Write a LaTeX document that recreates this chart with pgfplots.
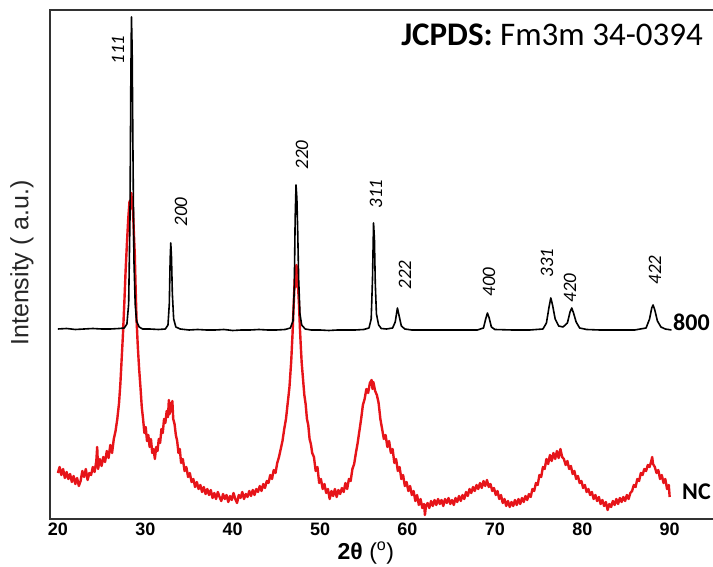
\documentclass[border=0pt]{standalone}
\usepackage{fontspec}
\setmainfont{Liberation Sans}
\newfontfamily\calib{Carlito}
\usepackage{pgfplots}
\pgfplotsset{compat=1.18}
\definecolor{xrdred}{RGB}{230,20,25}
\definecolor{axgray}{RGB}{50,50,50}

\begin{document}
\begin{tikzpicture}
\begin{axis}[
  name=ax,
  scale only axis,
  width=672.1pt, height=509pt,
  xmin=19.1, xmax=96, ymin=0, ymax=509,
  axis line style={line width=1.5pt, axgray},
  xtick={20,30,...,90}, ytick=\empty,
  major tick length=0pt,
  /pgf/number format/assume math mode=true,
  xticklabel style={font=\fontsize{18}{18}\selectfont\bfseries, text=black},
  xlabel={\textbf{2θ} (\textsuperscript{o})},
  ylabel={Intensity ( a.u.)},
  xlabel style={at={(axis description cs:0.470,-0.067)}, anchor=center, font=\fontsize{23}{23}\selectfont, text=black},
  ylabel style={at={(axis description cs:-0.0417,0.503)}, anchor=center, font=\fontsize{25}{25}\selectfont, text=black!85},
]
\coordinate (bl) at (rel axis cs:0,0);
\coordinate (tl) at (rel axis cs:0,1);

% NC sample (red)
\addplot[xrdred, line width=2.4pt, line join=round] coordinates {
(20.0,46)(20.2,52)(20.4,44)(20.6,50)(20.8,41)(21.0,47)(21.2,40)(21.4,45)(21.6,37)(21.8,43)
(22.0,35)(22.2,41)(22.4,33)(22.6,38)(22.8,48)(23.0,42)(23.2,50)(23.4,39)(23.6,46)(23.8,44)
(24.0,52)(24.2,47)(24.4,58)(24.5,72)(24.6,50)(24.8,60)(25.0,53)(25.2,62)(25.4,57)(25.6,68)
(25.8,61)(26.0,74)(26.2,66)(26.4,80)(26.6,88)(26.8,100)(27.0,116)(27.15,135)(27.3,160)(27.45,185)
(27.6,215)(27.75,248)(27.9,275)(28.05,300)(28.2,318)(28.3,310)(28.4,326)(28.5,316)(28.6,308)(28.7,285)
(28.8,265)(28.9,230)(29.0,200)(29.15,172)(29.3,150)(29.45,132)(29.6,112)(29.75,100)(29.9,86)(30.05,92)
(30.2,78)(30.35,84)(30.5,72)(30.65,80)(30.8,66)(30.95,70)(31.1,60)(31.25,72)(31.4,68)(31.55,80)
(31.7,76)(31.85,90)(32.0,86)(32.15,100)(32.3,96)(32.45,108)(32.6,102)(32.7,119)(32.8,105)(32.9,116)
(33.0,108)(33.1,118)(33.2,100)(33.35,95)(33.5,84)(33.65,78)(33.8,66)(33.95,70)(34.1,56)(34.3,60)
(34.5,48)(34.7,52)(34.9,42)(35.1,46)(35.3,37)(35.5,40)(35.7,32)(35.9,37)(36.1,30)(36.3,34)
(36.5,27)(36.7,32)(36.9,25)(37.1,30)(37.3,24)(37.5,29)(37.7,21)(37.9,26)(38.1,20)(38.3,27)
(38.5,22)(38.7,18)(38.9,25)(39.1,20)(39.3,24)(39.5,17)(39.7,23)(39.9,19)(40.1,26)(40.3,20)
(40.5,16)(40.7,24)(40.9,21)(41.1,27)(41.3,20)(41.5,25)(41.7,22)(41.9,28)(42.1,23)(42.3,29)
(42.5,24)(42.7,30)(42.9,27)(43.1,33)(43.3,28)(43.5,35)(43.7,31)(43.9,38)(44.1,36)(44.3,44)
(44.5,40)(44.7,49)(44.9,46)(45.1,56)(45.3,62)(45.5,70)(45.7,78)(45.9,90)(46.1,100)(46.3,116)
(46.5,132)(46.7,158)(46.85,185)(47.0,218)(47.1,240)(47.2,232)(47.3,254)(47.4,244)(47.5,230)(47.6,212)
(47.7,190)(47.8,172)(47.9,156)(48.05,140)(48.2,124)(48.35,115)(48.5,100)(48.65,94)(48.8,80)(48.95,75)
(49.1,66)(49.3,62)(49.5,48)(49.7,52)(49.9,36)(50.1,40)(50.3,30)(50.5,35)(50.7,26)(50.9,30)
(51.1,20)(51.3,28)(51.5,23)(51.7,30)(51.9,22)(52.1,29)(52.3,25)(52.5,31)(52.7,27)(52.9,36)
(53.1,30)(53.3,40)(53.5,38)(53.7,50)(53.9,55)(54.1,66)(54.3,76)(54.5,88)(54.7,100)(54.9,114)
(55.1,120)(55.3,130)(55.5,126)(55.7,136)(55.9,139)(56.0,130)(56.1,137)(56.3,128)(56.5,124)(56.7,116)
(56.9,100)(57.1,90)(57.3,80)(57.5,84)(57.7,72)(57.9,78)(58.1,66)(58.3,70)(58.5,56)(58.7,60)
(58.9,48)(59.1,52)(59.3,40)(59.5,44)(59.7,33)(59.9,37)(60.1,28)(60.3,33)(60.5,24)(60.7,28)
(60.9,18)(61.1,24)(61.3,14)(61.5,20)(61.7,11)(61.9,15)(62.0,4)(62.1,12)(62.3,16)(62.5,11)
(62.7,18)(62.9,13)(63.1,19)(63.3,14)(63.5,20)(63.7,15)(63.9,19)(64.1,13)(64.3,20)(64.5,16)
(64.7,21)(64.9,15)(65.1,19)(65.3,14)(65.5,21)(65.7,17)(65.9,23)(66.1,18)(66.3,24)(66.5,20)
(66.7,27)(66.9,23)(67.1,30)(67.3,26)(67.5,32)(67.7,28)(67.9,34)(68.1,30)(68.3,36)(68.5,31)
(68.7,38)(68.9,33)(69.1,39)(69.3,32)(69.5,35)(69.7,28)(69.9,31)(70.1,24)(70.3,28)(70.5,20)
(70.7,24)(70.9,16)(71.1,20)(71.3,13)(71.5,18)(71.7,12)(71.9,17)(72.1,13)(72.3,19)(72.5,14)
(72.7,20)(72.9,15)(73.1,21)(73.3,17)(73.5,23)(73.7,19)(73.9,25)(74.1,22)(74.3,30)(74.5,28)
(74.7,36)(74.9,34)(75.1,44)(75.3,42)(75.5,52)(75.7,50)(75.9,60)(76.1,55)(76.3,64)(76.5,58)
(76.7,66)(76.9,60)(77.1,68)(77.3,61)(77.5,70)(77.7,62)(77.9,60)(78.1,54)(78.3,58)(78.5,50)
(78.7,53)(78.9,45)(79.1,48)(79.3,40)(79.5,43)(79.7,36)(79.9,38)(80.1,31)(80.3,34)(80.5,27)
(80.7,30)(80.9,24)(81.1,27)(81.3,20)(81.5,24)(81.7,18)(81.9,22)(82.1,15)(82.3,19)(82.5,13)
(82.7,17)(82.9,9)(83.1,15)(83.3,12)(83.5,18)(83.7,14)(83.9,20)(84.1,15)(84.3,21)(84.5,17)
(84.7,22)(84.9,18)(85.1,24)(85.3,20)(85.5,26)(85.7,28)(85.9,34)(86.1,32)(86.3,40)(86.5,38)
(86.7,46)(86.9,44)(87.1,50)(87.3,48)(87.5,54)(87.7,52)(87.9,58)(88.0,62)(88.1,55)(88.3,52)
(88.5,46)(88.7,49)(88.9,40)(89.1,44)(89.3,36)(89.5,40)(89.7,30)(89.9,34)(90.0,22)
};

% 800 sample (black)
\addplot[black, line width=1.6pt, line join=round] coordinates {
(20,190)(21,190.5)(22,189.5)(23,190)(24,190.5)(25,190)(26,190)(27,190.5)(27.6,191)(27.9,195)
(28.1,215)(28.25,300)(28.35,440)(28.42,502)(28.5,470)(28.58,380)(28.7,260)(28.85,215)(29.0,198)(29.3,192)
(29.7,190)(30.5,190)(31.5,189.5)(32.3,190)(32.6,194)(32.75,215)(32.85,260)(32.92,276)(33.0,262)(33.1,225)
(33.25,200)(33.5,192)(34,190)(35,189)(36,189.5)(37,189)(38,189)(39,189.5)(40,188.5)(41,189)
(42,189)(43,189.5)(44,189)(45,189)(46,189.5)(46.6,191)(46.9,198)(47.05,230)(47.15,300)(47.25,334)
(47.35,320)(47.45,285)(47.55,240)(47.7,205)(47.9,194)(48.3,190)(49,189)(50,189)(51,188.5)(52,189)
(53,189)(54,189)(55,189.5)(55.6,191)(55.85,200)(56.0,240)(56.12,296)(56.22,280)(56.32,235)(56.45,205)
(56.7,194)(57,190.5)(57.6,190)(58.3,191)(58.6,197)(58.85,211)(59.05,203)(59.3,193)(59.7,190)(60.5,189)
(62,189)(64,189)(66,189)(68,189)(68.7,191)(68.95,200)(69.15,206)(69.35,201)(69.6,192)(70,189.5)
(72,189)(74,189)(75.5,190)(75.9,196)(76.2,212)(76.4,221)(76.6,214)(76.9,200)(77.3,193)(77.8,192)
(78.3,196)(78.6,207)(78.8,211)(79.0,206)(79.3,197)(79.7,191)(80.5,189.5)(82,189)(84,189)(86,189)
(87.3,191)(87.7,200)(87.95,211)(88.1,214)(88.3,209)(88.6,198)(89.0,192)(89.5,190)(90.2,189)
};

% peak labels
\tikzset{hkl/.style={rotate=90, font=\calib\itshape\fontsize{19}{19}\selectfont, text=black}}
\node[hkl] at (axis cs:26.88,469) {111};
\node[hkl] at (axis cs:34.09,307) {200};
\node[hkl] at (axis cs:47.93,364) {220};
\node[hkl] at (axis cs:56.40,325) {311};
\node[hkl] at (axis cs:59.72,244) {222};
\node[hkl] at (axis cs:69.33,237) {400};
\node[hkl] at (axis cs:75.97,256) {331};
\node[hkl] at (axis cs:78.60,231) {420};
\node[hkl] at (axis cs:88.32,249) {422};

\node[anchor=west, inner sep=0pt, font=\calib\bfseries\fontsize{24}{24}\selectfont] at (axis cs:90.38,197) {800};
\node[anchor=west, inner sep=0pt, font=\calib\bfseries\fontsize{24}{24}\selectfont] at (axis cs:91.41,27) {NC};
\node[anchor=base east, inner sep=0pt, font=\calib\fontsize{33}{33}\selectfont] at (axis cs:93.81,473) {\textbf{JCPDS:} Fm3m 34-0394};
\end{axis}
\pgfresetboundingbox
\path[use as bounding box] ([shift={(-50pt,-48pt)}]bl) rectangle ([shift={(663pt,10pt)}]tl);
\end{tikzpicture}
\end{document}
